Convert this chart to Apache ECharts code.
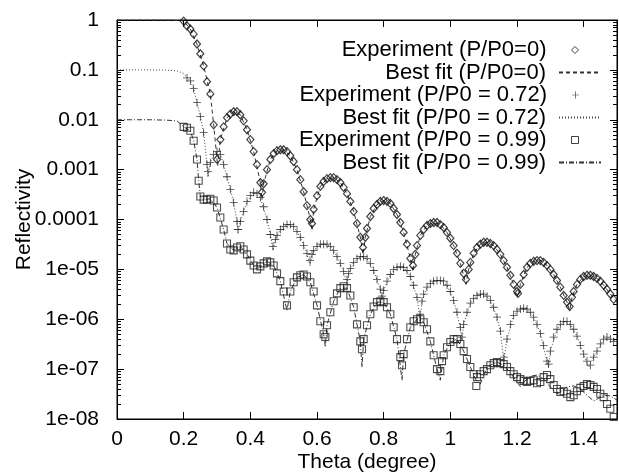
<!DOCTYPE html>
<html><head><meta charset="utf-8">
<script src="https://cdn.jsdelivr.net/npm/echarts/dist/echarts.min.js"></script>
<style>html,body{margin:0;padding:0;background:#fff}#c{width:619px;height:474px}</style>
</head><body><div id="c"></div>
<script>
const FONT = '"Liberation Sans", Arial, Helvetica, sans-serif';
const seriesNames = ['Experiment (P/P0=0)','Best fit (P/P0=0)','Experiment (P/P0 = 0.72)','Best fit (P/P0 = 0.72)','Experiment (P/P0 = 0.99)','Best fit (P/P0 = 0.99)'];
const yTickLabels = ['1','0.1','0.01','0.001','0.0001','1e-05','1e-06','1e-07','1e-08'];

// Experiment P/P0 = 0 : [theta, reflectivity]
const exp0 = [[0.20,0.95],[0.21,0.76],[0.22,0.66],[0.23,0.52],[0.24,0.33],[0.25,0.21],[0.26,0.12],[0.27,0.058],[0.28,0.033],[0.29,0.0079],[0.30,0.0016],[0.31,0.0040],[0.32,0.0072],[0.33,0.011],[0.34,0.013],[0.35,0.0145],[0.36,0.0145],[0.37,0.0126],[0.38,0.0095],[0.39,0.0063],[0.40,0.0040],[0.41,0.0023],[0.42,0.00126],[0.43,5.5e-4],[0.435,3.5e-4],[0.44,5.2e-4],[0.45,1.0e-3],[0.46,1.6e-3],[0.47,2.1e-3],[0.48,2.4e-3],[0.49,2.5e-3],[0.50,2.5e-3],[0.51,2.3e-3],[0.52,1.9e-3],[0.53,1.45e-3],[0.54,1.0e-3],[0.55,6.3e-4],[0.56,3.6e-4],[0.57,1.9e-4],[0.58,1.0e-4],[0.585,8.3e-5],[0.59,1.6e-4],[0.60,3.0e-4],[0.61,4.6e-4],[0.62,5.8e-4],[0.63,6.6e-4],[0.64,6.9e-4],[0.65,6.9e-4],[0.66,6.3e-4],[0.67,5.5e-4],[0.68,4.4e-4],[0.69,3.3e-4],[0.70,2.3e-4],[0.71,1.45e-4],[0.72,8.3e-5],[0.73,4.4e-5],[0.738,2.75e-5],[0.745,4.4e-5],[0.75,6.6e-5],[0.76,1.15e-4],[0.77,1.66e-4],[0.78,2.0e-4],[0.79,2.3e-4],[0.80,2.4e-4],[0.81,2.3e-4],[0.82,2.1e-4],[0.83,1.66e-4],[0.84,1.26e-4],[0.85,8.7e-5],[0.86,5.5e-5],[0.87,3.2e-5],[0.88,1.66e-5],[0.888,1.2e-5],[0.895,2.0e-5],[0.90,3.0e-5],[0.91,4.8e-5],[0.92,6.3e-5],[0.93,7.6e-5],[0.94,8.3e-5],[0.95,8.7e-5],[0.96,8.7e-5],[0.97,7.9e-5],[0.98,6.9e-5],[0.99,5.5e-5],[1.00,4.2e-5],[1.01,3.0e-5],[1.02,2.1e-5],[1.03,1.32e-5],[1.04,8.3e-6],[1.047,6.3e-6],[1.055,1.0e-5],[1.06,1.38e-5],[1.07,2.1e-5],[1.08,2.75e-5],[1.09,3.2e-5],[1.10,3.5e-5],[1.11,3.5e-5],[1.12,3.3e-5],[1.13,3.0e-5],[1.14,2.5e-5],[1.15,2.0e-5],[1.16,1.5e-5],[1.17,1.1e-5],[1.18,7.6e-6],[1.19,5.0e-6],[1.20,3.6e-6],[1.203,3.3e-6],[1.21,5.0e-6],[1.22,7.9e-6],[1.23,1.1e-5],[1.24,1.32e-5],[1.25,1.45e-5],[1.26,1.5e-5],[1.27,1.5e-5],[1.28,1.38e-5],[1.29,1.2e-5],[1.30,1.0e-5],[1.31,7.9e-6],[1.32,6.0e-6],[1.33,4.4e-6],[1.34,3.0e-6],[1.35,2.2e-6],[1.358,1.8e-6],[1.365,2.75e-6],[1.37,3.6e-6],[1.38,5.0e-6],[1.39,6.3e-6],[1.40,7.2e-6],[1.41,7.6e-6],[1.42,7.6e-6],[1.43,7.2e-6],[1.44,6.6e-6],[1.45,5.8e-6],[1.46,4.8e-6],[1.47,4.0e-6],[1.48,3.2e-6],[1.49,2.5e-6]];

// Best fit P/P0 = 0
const fit0 = [[0,1],[0.05,1],[0.10,1],[0.15,1],[0.19,0.98],[0.20,0.95],[0.22,0.66],[0.24,0.33],[0.26,0.12],[0.28,0.033],[0.29,0.0079],[0.30,0.0016],[0.302,0.0012],[0.31,0.0040],[0.33,0.011],[0.35,0.0145],[0.37,0.0126],[0.39,0.0063],[0.41,0.0023],[0.43,5.5e-4],[0.435,2.5e-4],[0.44,5.2e-4],[0.46,1.6e-3],[0.48,2.4e-3],[0.50,2.5e-3],[0.52,1.9e-3],[0.54,1.0e-3],[0.56,3.6e-4],[0.58,1.0e-4],[0.585,6.0e-5],[0.59,1.6e-4],[0.61,4.6e-4],[0.63,6.6e-4],[0.65,6.9e-4],[0.67,5.5e-4],[0.69,3.3e-4],[0.71,1.45e-4],[0.73,4.4e-5],[0.738,2.0e-5],[0.745,4.4e-5],[0.76,1.15e-4],[0.78,2.0e-4],[0.80,2.4e-4],[0.82,2.1e-4],[0.84,1.26e-4],[0.86,5.5e-5],[0.88,1.66e-5],[0.888,9e-6],[0.895,2.0e-5],[0.91,4.8e-5],[0.93,7.6e-5],[0.95,8.7e-5],[0.97,7.9e-5],[0.99,5.5e-5],[1.01,3.0e-5],[1.03,1.32e-5],[1.047,5e-6],[1.055,1.0e-5],[1.07,2.1e-5],[1.09,3.2e-5],[1.11,3.5e-5],[1.13,3.0e-5],[1.15,2.0e-5],[1.17,1.1e-5],[1.19,5.0e-6],[1.203,2.8e-6],[1.21,5.0e-6],[1.23,1.1e-5],[1.25,1.45e-5],[1.27,1.5e-5],[1.29,1.2e-5],[1.31,7.9e-6],[1.33,4.4e-6],[1.35,2.2e-6],[1.358,1.5e-6],[1.365,2.75e-6],[1.38,5.0e-6],[1.40,7.2e-6],[1.42,7.6e-6],[1.44,6.6e-6],[1.46,4.8e-6],[1.48,3.2e-6],[1.50,2.2e-6]];

// Experiment P/P0 = 0.72
const exp72 = [[0.21,6.9e-2],[0.22,6.0e-2],[0.23,4.2e-2],[0.24,2.2e-2],[0.25,1.15e-2],[0.26,5.5e-3],[0.27,1.26e-3],[0.273,9.1e-4],[0.28,1.38e-3],[0.29,2.0e-3],[0.30,2.3e-3],[0.31,2.0e-3],[0.32,1.26e-3],[0.33,7.2e-4],[0.34,4.0e-4],[0.35,2.2e-4],[0.36,9.1e-5],[0.363,6.3e-5],[0.37,9.1e-5],[0.38,1.45e-4],[0.39,2.3e-4],[0.40,3.0e-4],[0.41,3.5e-4],[0.42,3.3e-4],[0.43,2.75e-4],[0.44,1.8e-4],[0.45,1.0e-4],[0.46,5.0e-5],[0.468,2.9e-5],[0.475,4.0e-5],[0.48,4.8e-5],[0.49,6.3e-5],[0.50,7.2e-5],[0.51,7.9e-5],[0.52,7.9e-5],[0.53,7.2e-5],[0.54,5.8e-5],[0.55,4.4e-5],[0.56,3.0e-5],[0.57,2.1e-5],[0.579,1.5e-5],[0.585,2.0e-5],[0.59,2.4e-5],[0.60,2.9e-5],[0.61,3.2e-5],[0.62,3.2e-5],[0.63,3.2e-5],[0.64,2.9e-5],[0.65,2.4e-5],[0.66,1.8e-5],[0.67,1.32e-5],[0.68,9.1e-6],[0.69,6.3e-6],[0.695,8.3e-6],[0.70,1.05e-5],[0.71,1.38e-5],[0.72,1.66e-5],[0.73,1.8e-5],[0.74,1.8e-5],[0.75,1.66e-5],[0.76,1.32e-5],[0.77,9.5e-6],[0.78,6.3e-6],[0.79,4.0e-6],[0.795,2.9e-6],[0.80,3.8e-6],[0.81,5.8e-6],[0.82,7.9e-6],[0.83,1.0e-5],[0.84,1.1e-5],[0.85,1.15e-5],[0.86,1.1e-5],[0.87,9.5e-6],[0.88,7.2e-6],[0.89,4.8e-6],[0.90,2.75e-6],[0.909,1.26e-6],[0.915,2.3e-6],[0.92,3.2e-6],[0.93,4.4e-6],[0.94,5.2e-6],[0.95,5.8e-6],[0.96,6.0e-6],[0.97,6.0e-6],[0.98,5.8e-6],[0.99,4.8e-6],[1.00,3.6e-6],[1.01,2.4e-6],[1.02,1.38e-6],[1.03,6.9e-7],[1.035,4.4e-7],[1.04,7.9e-7],[1.05,1.38e-6],[1.06,2.1e-6],[1.07,2.6e-6],[1.08,3.0e-6],[1.09,3.2e-6],[1.10,3.2e-6],[1.11,2.9e-6],[1.12,2.4e-6],[1.13,1.74e-6],[1.14,1.1e-6],[1.15,5.8e-7],[1.161,1.74e-7],[1.17,4.0e-7],[1.18,7.9e-7],[1.19,1.2e-6],[1.20,1.45e-6],[1.21,1.6e-6],[1.22,1.66e-6],[1.23,1.6e-6],[1.24,1.38e-6],[1.25,1.1e-6],[1.26,7.9e-7],[1.27,5.2e-7],[1.28,3.0e-7],[1.29,1.45e-7],[1.295,1.26e-7],[1.30,2.3e-7],[1.31,4.4e-7],[1.32,6.3e-7],[1.33,7.9e-7],[1.34,9.1e-7],[1.35,9.1e-7],[1.36,7.9e-7],[1.37,6.3e-7],[1.38,4.6e-7],[1.39,3.0e-7],[1.40,2.0e-7],[1.41,1.45e-7],[1.42,1.2e-7],[1.43,1.74e-7],[1.44,2.3e-7],[1.45,3.2e-7],[1.46,4.0e-7],[1.47,4.4e-7],[1.48,4.0e-7],[1.49,3.6e-7]];

// Best fit P/P0 = 0.72
const fit72 = [[0,0.1],[0.05,0.1],[0.10,0.1],[0.15,0.099],[0.18,0.095],[0.19,0.09],[0.20,0.085],[0.21,0.07],[0.22,0.06],[0.23,0.042],[0.24,0.022],[0.25,0.0115],[0.26,0.0055],[0.27,0.00126],[0.273,7e-4],[0.28,1.38e-3],[0.29,2.0e-3],[0.30,2.3e-3],[0.31,2.0e-3],[0.32,1.26e-3],[0.33,7.2e-4],[0.34,4.0e-4],[0.35,2.2e-4],[0.36,9.1e-5],[0.363,5.5e-5],[0.37,9.1e-5],[0.38,1.45e-4],[0.39,2.3e-4],[0.41,3.5e-4],[0.43,2.75e-4],[0.45,1.0e-4],[0.46,5.0e-5],[0.468,2.4e-5],[0.475,4.0e-5],[0.49,6.3e-5],[0.51,7.9e-5],[0.53,7.2e-5],[0.55,4.4e-5],[0.57,2.1e-5],[0.579,1.2e-5],[0.585,2.0e-5],[0.60,2.9e-5],[0.62,3.2e-5],[0.64,2.9e-5],[0.66,1.8e-5],[0.68,9.1e-6],[0.69,5.0e-6],[0.695,8.3e-6],[0.71,1.38e-5],[0.73,1.8e-5],[0.75,1.66e-5],[0.77,9.5e-6],[0.79,4.0e-6],[0.795,2.4e-6],[0.80,3.8e-6],[0.82,7.9e-6],[0.84,1.1e-5],[0.86,1.1e-5],[0.88,7.2e-6],[0.90,2.75e-6],[0.909,1.0e-6],[0.915,2.3e-6],[0.93,4.4e-6],[0.95,5.8e-6],[0.97,6.0e-6],[0.99,4.8e-6],[1.01,2.4e-6],[1.03,6.9e-7],[1.035,3.8e-7],[1.04,7.9e-7],[1.06,2.1e-6],[1.08,3.0e-6],[1.10,3.2e-6],[1.12,2.4e-6],[1.14,1.1e-6],[1.15,5.8e-7],[1.16,1.5e-7],[1.17,4.0e-7],[1.19,1.2e-6],[1.21,1.6e-6],[1.23,1.6e-6],[1.25,1.1e-6],[1.27,5.2e-7],[1.29,1.45e-7],[1.295,1.1e-7],[1.30,2.3e-7],[1.32,6.3e-7],[1.34,9.1e-7],[1.36,7.9e-7],[1.38,4.6e-7],[1.40,2.0e-7],[1.415,1.1e-7],[1.42,1.2e-7],[1.44,2.3e-7],[1.46,4.0e-7],[1.48,4.0e-7],[1.50,3.5e-7]];

// Experiment P/P0 = 0.99
const exp99 = [[0.20,7.2e-3],[0.21,6.9e-3],[0.22,6.0e-3],[0.23,3.8e-3],[0.24,1.6e-3],[0.245,6.0e-4],[0.25,2.9e-4],[0.26,2.5e-4],[0.27,2.5e-4],[0.28,2.6e-4],[0.29,2.4e-4],[0.30,1.74e-4],[0.31,1.1e-4],[0.32,6.3e-5],[0.33,3.3e-5],[0.34,2.5e-5],[0.35,2.4e-5],[0.36,2.75e-5],[0.37,2.9e-5],[0.38,2.5e-5],[0.39,2.0e-5],[0.40,1.5e-5],[0.41,1.2e-5],[0.42,1.0e-5],[0.43,1.15e-5],[0.44,1.32e-5],[0.45,1.45e-5],[0.46,1.38e-5],[0.47,1.2e-5],[0.48,8.3e-6],[0.49,5.8e-6],[0.50,3.6e-6],[0.51,1.9e-6],[0.52,3.6e-6],[0.53,5.5e-6],[0.54,6.9e-6],[0.55,7.6e-6],[0.56,7.9e-6],[0.57,7.2e-6],[0.58,5.5e-6],[0.59,3.6e-6],[0.60,1.9e-6],[0.61,9.1e-7],[0.62,5.0e-7],[0.625,4.4e-7],[0.63,7.6e-7],[0.64,1.38e-6],[0.65,2.3e-6],[0.66,3.3e-6],[0.67,4.2e-6],[0.68,4.6e-6],[0.69,4.2e-6],[0.70,3.0e-6],[0.71,1.74e-6],[0.72,7.9e-7],[0.73,3.6e-7],[0.735,2.5e-7],[0.74,4.0e-7],[0.75,7.6e-7],[0.76,1.26e-6],[0.77,1.8e-6],[0.78,2.2e-6],[0.79,2.3e-6],[0.80,2.2e-6],[0.81,1.74e-6],[0.82,1.26e-6],[0.83,6.9e-7],[0.84,4.0e-7],[0.85,1.74e-7],[0.855,1.2e-7],[0.86,2.0e-7],[0.87,4.0e-7],[0.88,6.9e-7],[0.89,9.1e-7],[0.90,1.0e-6],[0.91,1.0e-6],[0.92,8.7e-7],[0.93,6.3e-7],[0.94,3.6e-7],[0.95,1.9e-7],[0.96,1.0e-7],[0.97,9.1e-8],[0.975,1.45e-7],[0.98,1.9e-7],[0.99,2.75e-7],[1.00,3.5e-7],[1.01,4.0e-7],[1.02,4.0e-7],[1.03,3.2e-7],[1.04,2.3e-7],[1.05,1.6e-7],[1.06,1.1e-7],[1.07,7.9e-8],[1.078,4.6e-8],[1.08,6.9e-8],[1.09,7.9e-8],[1.10,9.1e-8],[1.11,1.0e-7],[1.12,1.2e-7],[1.13,1.32e-7],[1.14,1.38e-7],[1.15,1.32e-7],[1.16,1.26e-7],[1.17,1.1e-7],[1.18,9.1e-8],[1.19,7.9e-8],[1.20,6.9e-8],[1.21,6.3e-8],[1.22,5.8e-8],[1.23,5.5e-8],[1.24,5.8e-8],[1.25,6.0e-8],[1.26,5.2e-8],[1.27,5.5e-8],[1.28,6.9e-8],[1.29,7.6e-8],[1.30,6.3e-8],[1.31,4.8e-8],[1.32,4.0e-8],[1.33,3.5e-8],[1.34,3.6e-8],[1.35,3.2e-8],[1.36,2.75e-8],[1.37,3.0e-8],[1.38,3.6e-8],[1.39,4.2e-8],[1.40,4.6e-8],[1.41,5.0e-8],[1.42,4.8e-8],[1.43,4.4e-8],[1.44,4.0e-8],[1.45,3.2e-8],[1.46,2.75e-8],[1.47,2.0e-8],[1.48,1.6e-8],[1.49,1.1e-8]];

// Best fit P/P0 = 0.99
const fit99 = [[0,0.01],[0.05,0.01],[0.10,0.01],[0.15,0.0098],[0.18,0.0095],[0.20,7.2e-3],[0.22,6.0e-3],[0.23,3.8e-3],[0.24,1.6e-3],[0.245,6.0e-4],[0.25,2.9e-4],[0.26,2.5e-4],[0.28,2.6e-4],[0.30,1.74e-4],[0.32,6.3e-5],[0.33,3.3e-5],[0.35,2.4e-5],[0.37,2.9e-5],[0.39,2.0e-5],[0.41,1.2e-5],[0.42,1.0e-5],[0.43,1.15e-5],[0.45,1.45e-5],[0.47,1.2e-5],[0.49,5.8e-6],[0.51,1.5e-6],[0.52,3.6e-6],[0.54,6.9e-6],[0.56,7.9e-6],[0.58,5.5e-6],[0.60,1.9e-6],[0.62,5.0e-7],[0.625,2.75e-7],[0.63,7.6e-7],[0.65,2.3e-6],[0.67,4.2e-6],[0.69,4.2e-6],[0.71,1.74e-6],[0.73,3.6e-7],[0.735,1.1e-7],[0.74,4.0e-7],[0.76,1.26e-6],[0.78,2.2e-6],[0.80,2.2e-6],[0.82,1.26e-6],[0.84,4.0e-7],[0.855,6.0e-8],[0.86,2.0e-7],[0.88,6.9e-7],[0.90,1.0e-6],[0.92,8.7e-7],[0.94,3.6e-7],[0.96,1.0e-7],[0.97,6.0e-8],[0.98,1.9e-7],[1.00,3.5e-7],[1.02,4.0e-7],[1.04,2.3e-7],[1.06,1.1e-7],[1.08,5.5e-8],[1.09,5.0e-8],[1.10,8.0e-8],[1.12,1.2e-7],[1.14,1.38e-7],[1.16,1.2e-7],[1.18,8.5e-8],[1.20,5.5e-8],[1.21,4.5e-8],[1.22,5.5e-8],[1.24,7.2e-8],[1.26,7.6e-8],[1.28,6.3e-8],[1.30,4.4e-8],[1.32,3.2e-8],[1.33,3.5e-8],[1.35,4.4e-8],[1.37,4.6e-8],[1.39,4.0e-8],[1.41,3.0e-8],[1.43,2.3e-8],[1.44,2.5e-8],[1.46,3.0e-8],[1.48,2.9e-8],[1.50,2.4e-8]];

const PLUS = 'path://M4.5,0H5.5V4.5H10V5.5H5.5V10H4.5V5.5H0V4.5H4.5Z';
const chart = echarts.init(document.getElementById('c'), null, {renderer:'canvas'});
const ink = '#111';
const tickStyle = {show:true, inside:true, length:7, lineStyle:{color:'#000', width:1}};
const minorStyle = {show:true, splitNumber:9, length:4, lineStyle:{color:'#000', width:1}};
const lineAx = {show:true, onZero:false, lineStyle:{color:'#000', width:1}};
const hollowKey = {color:'rgba(0,0,0,0)', borderColor:'#111', borderWidth:1};
const clearKey = {color:'rgba(0,0,0,0)', borderColor:'rgba(0,0,0,0)', borderWidth:0};
const solidKey = {color:'#111', borderWidth:0};

// one legend block per row so text can be right-aligned against its key
const rowCenters = [50, 72.5, 95, 117.5, 140, 162.5];
const isLine = [false, true, false, true, false, true];
const keyStyles = [hollowKey, clearKey, solidKey, clearKey, hollowKey, clearKey];
const legends = seriesNames.map(function(n, i){
  const ln = isLine[i];
  return {
    orient:'vertical', align:'right', padding:0, itemGap:0,
    right: ln ? 17 : 40, top: rowCenters[i] - 11,
    itemWidth: ln ? 42 : 7, itemHeight: ln ? 8 : 7,
    itemStyle: keyStyles[i],
    textStyle:{fontFamily:FONT, fontSize:22, color:'#000', lineHeight:22, padding:[0, ln ? 8 : 20, 0, 0]},
    data:[n]
  };
});

chart.setOption({
  animation:false,
  backgroundColor:'#fff',
  textStyle:{fontFamily:FONT},
  grid:{left:117, right:2, top:20, bottom:55, containLabel:false, outerBoundsMode:'none',
        show:true, borderColor:'#000', borderWidth:1, backgroundColor:'transparent'},
  legend:legends,
  xAxis:[
    {type:'value', position:'bottom', min:0, max:1.5, interval:0.2,
     name:'Theta (degree)', nameLocation:'middle', nameGap:33, nameMoveOverlap:false,
     nameTextStyle:{fontFamily:FONT, fontSize:21, color:'#000'},
     axisLine:lineAx, axisTick:tickStyle,
     axisLabel:{fontFamily:FONT, fontSize:21, color:'#000', margin:10, showMaxLabel:false},
     splitLine:{show:false}},
    {type:'value', position:'top', min:0, max:1.5, interval:0.2,
     axisLine:lineAx, axisTick:tickStyle, axisLabel:{show:false}, splitLine:{show:false}}
  ],
  yAxis:[
    {type:'log', logBase:10, position:'left', min:1e-8, max:1, interval:1,
     name:'Reflectivity', nameLocation:'middle', nameGap:82, nameMoveOverlap:false,
     nameTextStyle:{fontFamily:FONT, fontSize:21, color:'#000'},
     axisLine:lineAx, axisTick:tickStyle, minorTick:minorStyle,
     axisLabel:{fontFamily:FONT, fontSize:21, color:'#000', margin:18,
       formatter:function(v){return yTickLabels[Math.round(-Math.log10(v))];}},
     splitLine:{show:false}, minorSplitLine:{show:false}},
    {type:'log', logBase:10, position:'right', min:1e-8, max:1, interval:1,
     axisLine:lineAx, axisTick:tickStyle, minorTick:minorStyle, axisLabel:{show:false},
     splitLine:{show:false}, minorSplitLine:{show:false}}
  ],
  series:[
    {name:seriesNames[1], type:'line', data:fit0, symbol:'none', z:2,
     itemStyle:{color:'#333'}, lineStyle:{color:'#333', width:1, type:[4,3]}},
    {name:seriesNames[3], type:'line', data:fit72, symbol:'none', z:2,
     itemStyle:{color:'#444'}, lineStyle:{color:'#444', width:1, type:[1,2]}},
    {name:seriesNames[5], type:'line', data:fit99, symbol:'none', z:2,
     itemStyle:{color:'#333'}, lineStyle:{color:'#333', width:1, type:[5,2,1,2]}},
    {name:seriesNames[0], type:'scatter', data:exp0, symbol:'diamond', symbolSize:[7,8], z:3,
     itemStyle:{color:'rgba(255,255,255,0)', borderColor:ink, borderWidth:1.2}},
    {name:seriesNames[2], type:'scatter', data:exp72, symbol:PLUS, symbolSize:8, z:3,
     itemStyle:{color:ink, borderWidth:0}},
    {name:seriesNames[4], type:'scatter', data:exp99, symbol:'rect', symbolSize:7, z:3,
     itemStyle:{color:'rgba(255,255,255,0)', borderColor:'#222', borderWidth:1.1}}
  ]
});
</script></body></html>
